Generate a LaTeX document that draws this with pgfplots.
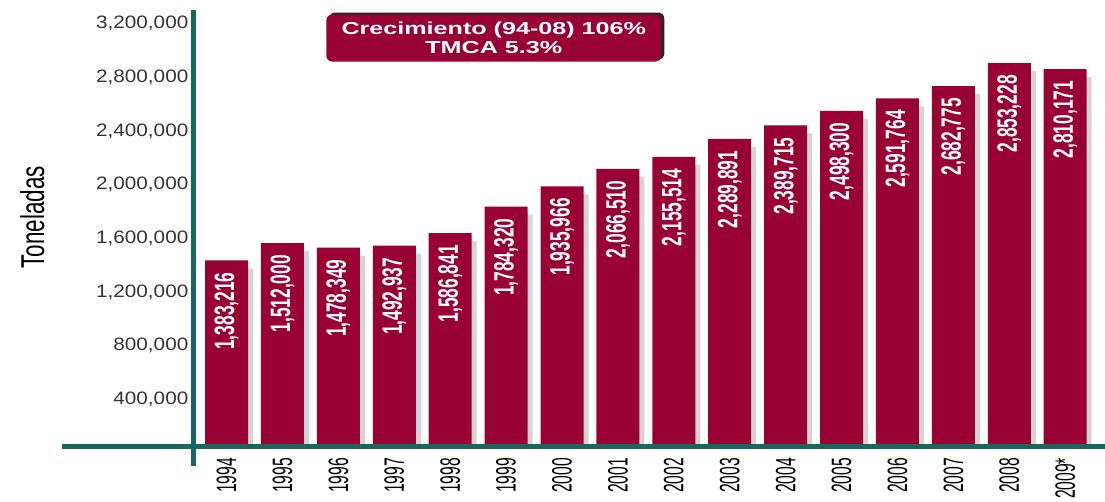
\documentclass[border=0pt]{standalone}
\usepackage{pgfplots}
\usepackage{pgfplotstable}
\pgfplotsset{compat=1.18}
\usepackage{fontspec}
\setmainfont{Liberation Sans}
\usetikzlibrary{shadows}
\newfontfamily\tickfont[FakeStretch=1.15]{Liberation Sans}
\newfontfamily\yearfont[FakeStretch=0.56]{Liberation Sans}
\newfontfamily\valfont[FakeStretch=0.62]{Liberation Sans}
\newfontfamily\labfont[FakeStretch=0.68]{Liberation Sans}
\newfontfamily\boxfont[FakeStretch=1.45]{Liberation Sans}
\definecolor{barred}{HTML}{990033}
\definecolor{axteal}{HTML}{17675F}
\definecolor{tickgray}{HTML}{333333}
\newdimen\pxu \pxu=0.75pt

% toneladas por año
\pgfplotstableread{
x y lab
0 1383216 1,383,216
1 1512000 1,512,000
2 1478349 1,478,349
3 1492937 1,492,937
4 1586841 1,586,841
5 1784320 1,784,320
6 1935966 1,935,966
7 2066510 2,066,510
8 2155514 2,155,514
9 2289891 2,289,891
10 2389715 2,389,715
11 2498300 2,498,300
12 2591764 2,591,764
13 2682775 2,682,775
14 2853228 2,853,228
15 2810171 2,810,171
}\datatable

\begin{document}
\begin{tikzpicture}
\begin{axis}[
    name=ax,
    scale only axis,
    width=913\pxu, height=436\pxu,
    xmin=-0.6, xmax=15.73,
    ymin=0, ymax=3250000,
    axis line style={draw=none},
    ybar, bar width=43\pxu,
    major tick length=0pt,
    xtick={0,...,15},
    xticklabels={1994,1995,1996,1997,1998,1999,2000,2001,2002,2003,2004,2005,2006,2007,2008,2009*},
    x tick label style={rotate=90, anchor=east, inner sep=0pt, outer xsep=12\pxu,
        font=\fontsize{21}{21}\selectfont\yearfont, text=black},
    ytick={400000,800000,...,3200000},
    scaled y ticks=false,
    /pgf/number format/.cd, fixed, 1000 sep={,}, assume math mode=true, /pgfplots/.cd,
    y tick label style={font=\fontsize{13.5}{14}\selectfont\tickfont, text=tickgray, yshift=-7\pxu},
    ylabel={Toneladas},
    ylabel style={at={(axis description cs:-0.176,0.525)}, anchor=center,
        font=\fontsize{24.75}{25}\selectfont\labfont},
]
\addplot[fill=barred, draw=none, bar shift=0pt,
    drop shadow={shadow xshift=5\pxu, shadow yshift=-8\pxu, fill=black!17, opacity=1},
    point meta=explicit symbolic, nodes near coords,
    every node near coord/.append style={rotate=90, anchor=east, inner sep=0pt, outer xsep=12\pxu,
        text=white, font=\fontsize{21}{21}\selectfont\valfont\bfseries}]
    table[x=x, y=y, meta=lab] {\datatable};

\node[fill=barred, rounded corners=6\pxu, minimum width=335\pxu, minimum height=47\pxu,
    text=white, align=center, inner sep=0pt,
    font=\fontsize{13}{14.5}\selectfont\boxfont\bfseries,
    drop shadow={shadow xshift=3\pxu, shadow yshift=2\pxu, fill=black!85, opacity=1}]
    at (axis cs:4.78,3041000) {Crecimiento (94-08) 106\%\\TMCA 5.3\%};
\end{axis}

\draw[axteal, line width=5\pxu] ([xshift=-131\pxu]ax.south west) -- (ax.south east);
\draw[axteal, line width=5\pxu] ([yshift=-20\pxu]ax.south west) -- (ax.north west);

\pgfresetboundingbox
\path ([xshift=-193\pxu, yshift=-55\pxu]ax.south west) rectangle ++(1105\pxu, 501\pxu);
\end{tikzpicture}
\end{document}
